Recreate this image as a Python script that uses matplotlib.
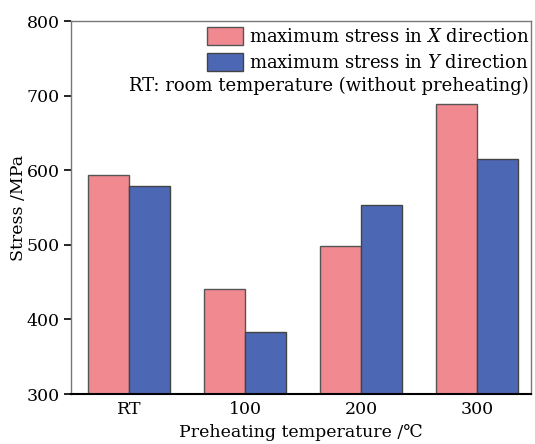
import matplotlib
matplotlib.use("Agg")
import matplotlib.pyplot as plt
import numpy as np

# -------------------------------
# Data
# -------------------------------
temps = ["RT", "100", "200", "300"]
stress_x = [593, 441, 498, 689]
stress_y = [579, 383, 554, 615]

plt.rcParams["font.family"] = ["DejaVu Serif", "DejaVu Sans"]
plt.rcParams["mathtext.fontset"] = "dejavuserif"

fig = plt.figure(figsize=(5.35, 4.44), dpi=100)
ax = fig.add_axes([0.1327, 0.1126, 0.86, 0.8401])

x = np.arange(len(temps))
w = 0.35
ax.bar(x - w / 2, stress_x, w, color="#F08A90", edgecolor="#555555",
       linewidth=1.0, label=r"maximum stress in $X$ direction")
ax.bar(x + w / 2, stress_y, w, color="#4C68B4", edgecolor="#444444",
       linewidth=1.0, label=r"maximum stress in $Y$ direction")

ax.set_ylim(300, 800)
ax.set_xlim(-0.5, 3.466)
ax.set_xticks(x)
ax.set_xticklabels(temps)
ax.set_yticks([300, 400, 500, 600, 700, 800])
ax.tick_params(axis="x", length=0, labelsize=12.5, pad=5)
ax.tick_params(axis="y", direction="out", length=5, width=1.2, labelsize=12.5, pad=3)

for side in ["left", "top", "right"]:
    ax.spines[side].set_color("#777777")
    ax.spines[side].set_linewidth(1.0)
ax.spines["bottom"].set_color("black")
ax.spines["bottom"].set_linewidth(1.5)

ax.set_ylabel("Stress /MPa", fontsize=12.5, labelpad=0)
ax.set_xlabel("Preheating temperature /\u2103", fontsize=12.5, labelpad=4)

ax.legend(loc="upper right", bbox_to_anchor=(1.005, 0.995), frameon=False,
          fontsize=13, handlelength=2.0, handleheight=1.1, handletextpad=0.3,
          labelspacing=0.4, borderpad=0.15, borderaxespad=0.1)
ax.text(0.995, 0.825, "RT: room temperature (without preheating)",
        transform=ax.transAxes, ha="right", va="center", fontsize=13)

fig.savefig("out.png", dpi=100)
